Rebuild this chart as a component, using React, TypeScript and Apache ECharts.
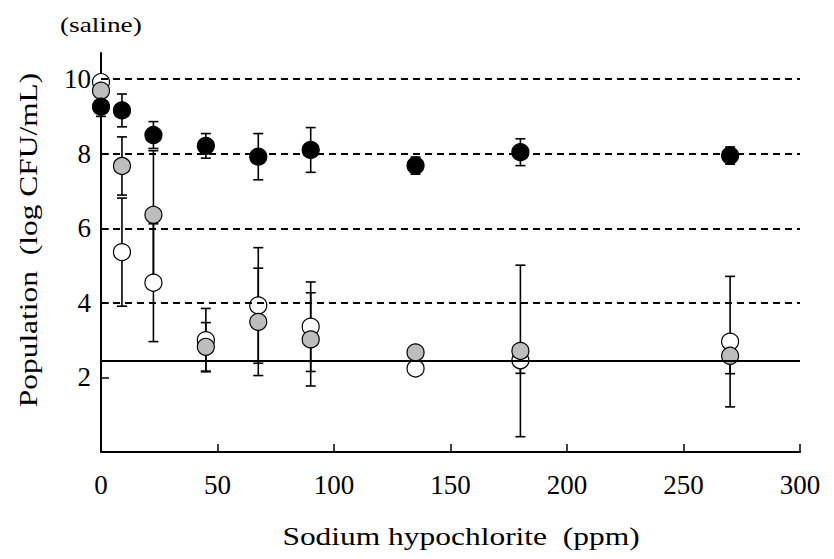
import React, { useEffect, useRef } from "react";
import * as echarts from "echarts";

// Sodium hypochlorite concentrations (ppm); 0 = saline control
const concentrations = [0, 9, 22.5, 45, 67.5, 90, 135, 180, 270];

// Black circles: mean and SD (log CFU/mL)
const blackMean = [9.26, 9.16, 8.5, 8.21, 7.92, 8.1, 7.68, 8.04, 7.95];
const blackSD = [0.26, 0.44, 0.36, 0.33, 0.62, 0.6, 0.23, 0.36, 0.23];

// Grey circles
const grayMean = [9.69, 7.67, 6.36, 2.82, 3.49, 3.02, 2.67, 2.71, 2.58];
const graySD = [0.15, 0.78, 1.72, 0.65, 1.44, 1.25, 0.1, 2.3, 0.48];

// White circles
const whiteMean = [9.92, 5.36, 4.54, 3.0, 3.93, 3.36, 2.24, 2.46, 2.96];
const whiteSD = [0.1, 1.45, 1.58, 0.85, 1.55, 1.2, 0.1, 0.35, 1.75];

// Horizontal guide lines
const dashedLevels = [4, 6, 8, 10];
const detectionLimit = 2.44;

// Axis ticks
const yTickValues = [2, 4, 6, 8, 10];

const FONT = "Liberation Serif";

const points = (means: number[]) => concentrations.map((x, i) => [x, means[i]]);
const bars = (means: number[], sds: number[]) =>
  concentrations.map((x, i) => [x, means[i] - sds[i], means[i] + sds[i]]);

function errorBarSeries(name: string, data: number[][]) {
  return {
    name,
    type: "custom",
    z: 2,
    encode: { x: 0, y: [1, 2] },
    data,
    renderItem: (params: any, api: any) => {
      const x = api.value(0);
      const top = api.coord([x, api.value(2)]);
      const bot = api.coord([x, api.value(1)]);
      const w = 5;
      const style = { stroke: "#000", lineWidth: 1.6 };
      return {
        type: "group",
        children: [
          { type: "line", shape: { x1: top[0], y1: top[1], x2: bot[0], y2: bot[1] }, style },
          { type: "line", shape: { x1: top[0] - w, y1: top[1], x2: top[0] + w, y2: top[1] }, style },
          { type: "line", shape: { x1: bot[0] - w, y1: bot[1], x2: bot[0] + w, y2: bot[1] }, style },
        ],
      };
    },
  };
}

function circleSeries(name: string, data: number[][], fill: string, z: number) {
  return {
    name,
    type: "scatter",
    z,
    symbol: "circle",
    symbolSize: 17,
    data,
    itemStyle: { color: fill, borderColor: "#000", borderWidth: 1.2, opacity: 1 },
    emphasis: { disabled: true },
  };
}

export default function App() {
  const ref = useRef<HTMLDivElement>(null);

  useEffect(() => {
    document.body.style.margin = "0";
    if (!ref.current) return;
    const chart = echarts.init(ref.current, null, { renderer: "svg" });

    const option: any = {
      animation: false,
      backgroundColor: "#fff",
      textStyle: { fontFamily: FONT, color: "#000" },
      grid: { left: 101, right: 34, top: 53, bottom: 107, outerBoundsMode: "none" },
      xAxis: {
        type: "value",
        min: 0,
        max: 300,
        interval: 50,
        splitLine: { show: false },
        axisLine: { show: true, onZero: false, lineStyle: { color: "#000", width: 2 } },
        axisTick: { show: true, inside: true, length: 8, lineStyle: { color: "#000", width: 1.5 } },
        axisLabel: { color: "#000", fontFamily: FONT, fontSize: 27, margin: 19 },
      },
      yAxis: {
        type: "value",
        min: 0,
        max: 10.7,
        splitLine: { show: false },
        axisLine: { show: true, onZero: false, lineStyle: { color: "#000", width: 2 } },
        axisTick: {
          show: true,
          inside: true,
          length: 8,
          customValues: yTickValues,
          lineStyle: { color: "#000", width: 1.5 },
        },
        axisLabel: {
          color: "#000",
          fontFamily: FONT,
          fontSize: 27,
          margin: 10,
          customValues: yTickValues,
        },
      },
      graphic: [
        {
          type: "text",
          x: 60,
          y: 24,
          scaleX: 1.24,
          style: {
            text: "(saline)",
            fontFamily: FONT,
            fontSize: 22,
            fill: "#000",
            align: "left",
            verticalAlign: "middle",
          },
        },
        {
          type: "text",
          x: 461,
          y: 536,
          scaleX: 1.21,
          style: {
            text: "Sodium hypochlorite  (ppm)",
            fontFamily: FONT,
            fontSize: 26,
            fill: "#000",
            align: "center",
            verticalAlign: "middle",
          },
        },
        {
          type: "text",
          x: 28,
          y: 240,
          rotation: Math.PI / 2,
          scaleX: 1.21,
          style: {
            text: "Population  (log CFU/mL)",
            fontFamily: FONT,
            fontSize: 26,
            fill: "#000",
            align: "center",
            verticalAlign: "middle",
          },
        },
      ],
      series: [
        {
          name: "guides",
          type: "scatter",
          data: [],
          z: 1,
          silent: true,
          markLine: {
            silent: true,
            symbol: "none",
            label: { show: false },
            emphasis: { disabled: true },
            data: [
              ...dashedLevels.map((v) => ({
                yAxis: v,
                lineStyle: { color: "#000", width: 2, type: [7, 5] },
              })),
              { yAxis: detectionLimit, lineStyle: { color: "#000", width: 2, type: "solid" } },
            ],
          },
        },
        errorBarSeries("whiteSD", bars(whiteMean, whiteSD)),
        errorBarSeries("graySD", bars(grayMean, graySD)),
        errorBarSeries("blackSD", bars(blackMean, blackSD)),
        circleSeries("white", points(whiteMean), "#ffffff", 3),
        circleSeries("gray", points(grayMean), "#bdbdbd", 4),
        circleSeries("black", points(blackMean), "#000000", 5),
      ],
    };

    chart.setOption(option);
    return () => chart.dispose();
  }, []);

  return <div ref={ref} style={{ width: 834, height: 559 }} />;
}
